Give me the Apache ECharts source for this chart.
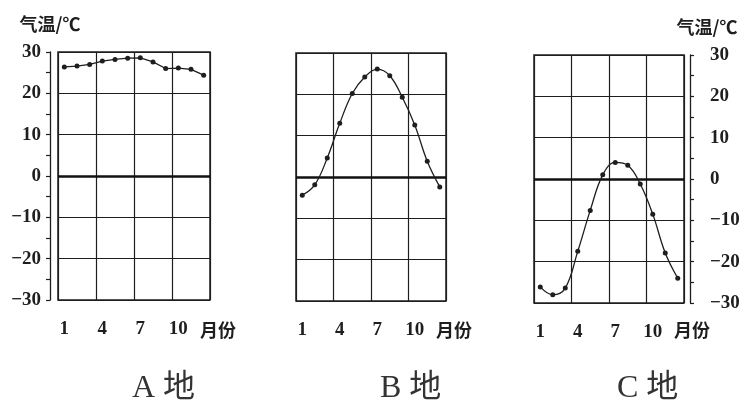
<!DOCTYPE html>
<html>
<head>
<meta charset="utf-8">
<script src="https://cdn.jsdelivr.net/npm/echarts@6/dist/echarts.min.js"></script>
<style>html,body{margin:0;padding:0;background:#fff;}#c{width:755px;height:411px;}</style>
</head>
<body>
<div id="c"></div>
<script>
// Months (x categories)
const months = ['1','2','3','4','5','6','7','8','9','10','11','12'];
// Monthly mean temperature (°C)
const tempA = [26.4, 26.6, 27.0, 27.8, 28.2, 28.5, 28.6, 27.6, 26.0, 26.1, 25.8, 24.4];
const tempB = [-4.4, -1.9, 4.6, 13.0, 20.2, 24.2, 26.1, 24.5, 19.3, 12.6, 3.8, -2.4];
const tempC = [-26.1, -28.0, -26.4, -17.5, -7.6, 1.0, 4.0, 3.3, -1.2, -8.5, -17.9, -24.0];
// Y axis ticks
const yTicks = [-30, -20, -10, 0, 10, 20, 30];
const captions = ['A 地', 'B 地', 'C 地'];
const yName = '气温/℃';
const xName = '月份';

const ink = '#1e1e1e';
const numFont = 'Liberation Serif';
const cjkFont = 'Noto Sans CJK SC';

const grids = [
  {left: 58, top: 52, width: 152, height: 248},
  {left: 296, top: 53, width: 150, height: 248},
  {left: 534, top: 55, width: 150, height: 248}
];

function xAxisFor(i) {
  return {
    type: 'category', gridIndex: i, data: months, boundaryGap: true, position: 'bottom',
    axisLine: {show: false, onZero: false}, axisTick: {show: false},
    axisLabel: {interval: 2, margin: 20, fontFamily: numFont, fontWeight: 'bold', fontSize: 19, color: ink},
    splitLine: {show: true, interval: 2, lineStyle: {color: ink, width: 1.2}}
  };
}

function yAxisFor(i, mode) {
  const base = {
    type: 'value', gridIndex: i, min: yTicks[0], max: yTicks[yTicks.length - 1], interval: 10,
    splitLine: {show: true, lineStyle: {color: ink, width: 1.2}}
  };
  if (mode === 'none') {
    return Object.assign(base, {axisLine: {show: false}, axisTick: {show: false}, axisLabel: {show: false}});
  }
  const right = mode === 'right';
  return Object.assign(base, {
    position: right ? 'right' : 'left',
    offset: right ? 6 : 8,
    axisLine: {show: true, lineStyle: {color: ink, width: 1.3}},
    axisTick: {show: true, length: 4, lineStyle: {color: ink, width: 1.2}},
    minorTick: {show: true, splitNumber: 2, length: 4, lineStyle: {color: ink, width: 1.2}},
    axisLabel: {
      margin: right ? 20 : 9, fontFamily: numFont, fontWeight: 'bold', fontSize: 19, color: ink,
      formatter: v => (v < 0 ? '\u2212' + (-v) : String(v))
    },
    name: yName, nameLocation: 'end', nameGap: 19,
    nameTextStyle: {fontFamily: cjkFont, fontWeight: 'bold', fontSize: 18, color: ink,
      padding: right ? [0, 0, 0, 34] : [0, 0, 0, 0]}
  });
}

function seriesFor(i, data, smooth) {
  return {
    type: 'line', xAxisIndex: i, yAxisIndex: i, data: data, smooth: smooth,
    symbol: 'circle', symbolSize: 5, showSymbol: true,
    itemStyle: {color: ink}, lineStyle: {color: ink, width: 1.3},
    markLine: {
      silent: true, symbol: 'none', label: {show: false},
      lineStyle: {color: '#111', width: 2.6, type: 'solid'},
      data: [{yAxis: 0}]
    },
    z: 5
  };
}

const capX = [132, 380, 617];
const graphics = [];
captions.forEach((c, i) => {
  graphics.push({type: 'text', left: capX[i], top: 373,
    style: {text: c, font: '32px "Liberation Serif", "Noto Sans CJK SC"', fill: '#333', textAlign: 'center'}});
});
grids.forEach(g => {
  graphics.push({type: 'text', x: g.left + g.width - 10, y: 330,
    style: {text: xName, font: 'bold 18px "Noto Sans CJK SC"', fill: ink, textAlign: 'left', textVerticalAlign: 'middle'}});
});

const chart = echarts.init(document.getElementById('c'), null, {renderer: 'canvas'});
chart.setOption({
  backgroundColor: '#fff',
  animation: false,
  grid: grids.map(g => Object.assign({show: true, borderColor: ink, borderWidth: 1.5, backgroundColor: 'transparent',
    containLabel: false, outerBoundsMode: 'none'}, g)),
  xAxis: [xAxisFor(0), xAxisFor(1), xAxisFor(2)],
  yAxis: [yAxisFor(0, 'left'), yAxisFor(1, 'none'), yAxisFor(2, 'right')],
  series: [seriesFor(0, tempA, false), seriesFor(1, tempB, 0.4), seriesFor(2, tempC, 0.4)],
  graphic: graphics
});
</script>
</body>
</html>
